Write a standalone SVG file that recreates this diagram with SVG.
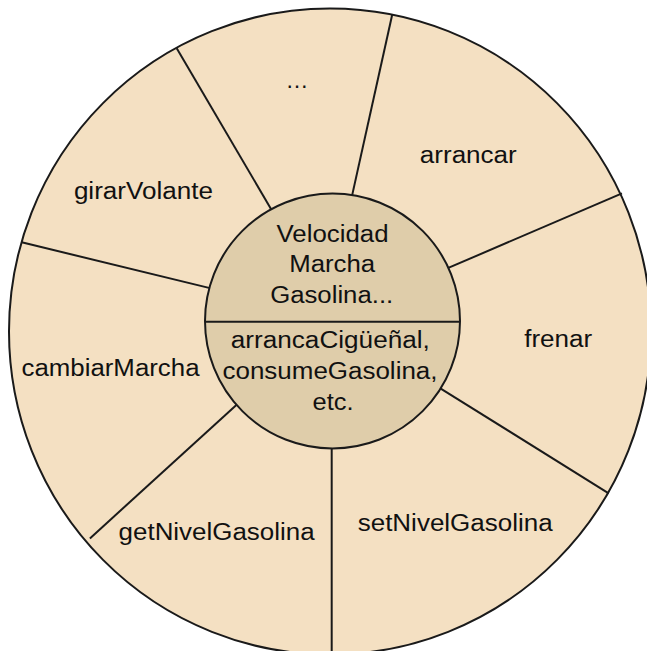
<svg xmlns="http://www.w3.org/2000/svg" width="647" height="651" viewBox="0 0 647 651">
<style>
.ring{fill:#F4E0C2;stroke:#1a1a1a;stroke-width:2}
.core{fill:#DFCDAA;stroke:#1a1a1a;stroke-width:2}
.sp{stroke:#1a1a1a;stroke-width:2;fill:none}
.t{font-family:"Liberation Sans",Arial,sans-serif;font-size:23px;fill:#111;text-anchor:middle}
</style>
<rect width="647" height="651" fill="#fff"/>
<g id="wheel">
<ellipse class="ring" cx="330" cy="331.5" rx="321" ry="323"/>
</g>
<g id="spokes">
<line class="sp" x1="176.7" y1="48.3" x2="273.2" y2="212.7"/>
<line class="sp" x1="392.3" y1="14.3" x2="351.4" y2="198.6"/>
<line class="sp" x1="622" y1="193.3" x2="444.2" y2="269.7"/>
<line class="sp" x1="608.7" y1="493.3" x2="434.3" y2="384.6"/>
<line class="sp" x1="331.7" y1="445" x2="331.7" y2="660"/>
<line class="sp" x1="89.9" y1="538.4" x2="241.6" y2="400.3"/>
<line class="sp" x1="21.7" y1="242.3" x2="214.1" y2="289.1"/>
</g>
<g id="core">
<circle class="core" cx="332.5" cy="321" r="127.5"/>
<line class="sp" x1="205" y1="321.7" x2="460" y2="321.7"/>
<text class="t" x="332.5" y="241.7" textLength="112" lengthAdjust="spacingAndGlyphs">Velocidad</text>
<text class="t" x="332.2" y="271.7" textLength="86" lengthAdjust="spacingAndGlyphs">Marcha</text>
<text class="t" x="331.7" y="303.3" textLength="123" lengthAdjust="spacingAndGlyphs">Gasolina...</text>
<text class="t" x="330.3" y="348.3" textLength="199" lengthAdjust="spacingAndGlyphs">arrancaCigüeñal,</text>
<text class="t" x="330" y="379" textLength="215" lengthAdjust="spacingAndGlyphs">consumeGasolina,</text>
<text class="t" x="333" y="410" textLength="41" lengthAdjust="spacingAndGlyphs">etc.</text>
</g>
<g id="seg-more"><text class="t" x="297" y="88">…</text></g>
<g id="seg-arrancar"><text class="t" x="468.3" y="163" textLength="97" lengthAdjust="spacingAndGlyphs">arrancar</text></g>
<g id="seg-frenar"><text class="t" x="558.2" y="346.5" textLength="68" lengthAdjust="spacingAndGlyphs">frenar</text></g>
<g id="seg-setNivelGasolina"><text class="t" x="455.2" y="531.4" textLength="195" lengthAdjust="spacingAndGlyphs">setNivelGasolina</text></g>
<g id="seg-getNivelGasolina"><text class="t" x="216.6" y="539.8" textLength="196" lengthAdjust="spacingAndGlyphs">getNivelGasolina</text></g>
<g id="seg-cambiarMarcha"><text class="t" x="110.5" y="375.7" textLength="178" lengthAdjust="spacingAndGlyphs">cambiarMarcha</text></g>
<g id="seg-girarVolante"><text class="t" x="143.4" y="199.3" textLength="139" lengthAdjust="spacingAndGlyphs">girarVolante</text></g>
</svg>
